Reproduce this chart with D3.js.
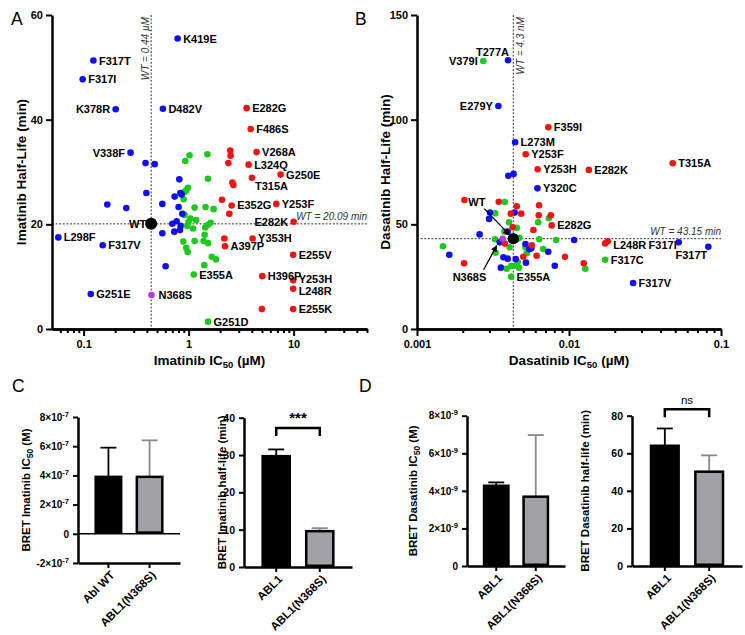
<!DOCTYPE html>
<html><head><meta charset="utf-8">
<script src="https://cdn.jsdelivr.net/npm/d3@7"></script>
<style>body{margin:0;background:#fff}svg text{font-family:Arial,"Liberation Sans",sans-serif}</style>
</head><body><svg id="c" width="745" height="635"></svg>
<script>
// ---------------- DATA ----------------
// Panel A: Imatinib IC50 (µM) vs half-life (min)
const imaBlue=[
 {m:"K419E",x:0.786,y:55.5},{m:"F317T",x:0.124,y:51.3},{m:"F317I",x:0.098,y:47.7},
 {m:"K378R",x:0.202,y:42.0},{m:"D482V",x:0.569,y:42.1},{m:"V338F",x:0.28,y:33.7},
 {m:"",x:0.389,y:31.7},{m:"",x:0.475,y:31.5},{m:"",x:0.815,y:28.6},{m:"",x:0.396,y:26.0},
 {m:"",x:0.834,y:26.0},{m:"",x:0.858,y:25.7},{m:"",x:0.736,y:25.3},{m:"",x:0.168,y:23.8},
 {m:"",x:0.255,y:23.1},{m:"",x:0.562,y:23.9},{m:"",x:0.803,y:23.3},{m:"",x:0.871,y:22.0},
 {m:"",x:0.769,y:20.6},{m:"",x:0.70,y:20.1},{m:"",x:0.839,y:19.7},{m:"",x:0.827,y:18.9},
 {m:"",x:0.562,y:18.3},{m:"",x:0.73,y:18.6},{m:"F317V",x:0.152,y:16.0},{m:"L298F",x:0.0574,y:17.5},
 {m:"",x:0.604,y:12.0},{m:"G251E",x:0.117,y:6.7}];
const imaGreen=[
 {m:"",x:1.02,y:33.2},{m:"",x:1.51,y:33.4},{m:"",x:0.93,y:32.1},{m:"",x:1.53,y:28.7},
 {m:"",x:0.985,y:27.0},{m:"",x:0.95,y:26.5},{m:"",x:0.916,y:26.2},{m:"",x:0.896,y:24.8},
 {m:"",x:1.14,y:23.2},{m:"",x:1.45,y:23.3},{m:"",x:1.73,y:22.9},{m:"",x:0.916,y:21.8},
 {m:"",x:1.04,y:21.1},{m:"",x:1.18,y:20.8},{m:"",x:1.0,y:20.5},{m:"",x:1.62,y:20.3},
 {m:"",x:1.53,y:19.9},{m:"",x:0.97,y:19.7},{m:"",x:1.10,y:19.2},{m:"",x:1.44,y:19.4},
 {m:"",x:1.42,y:18.0},{m:"",x:0.89,y:16.7},{m:"",x:1.14,y:16.8},{m:"",x:1.39,y:16.8},
 {m:"",x:1.53,y:16.4},{m:"",x:0.95,y:15.5},{m:"",x:0.98,y:14.7},{m:"",x:1.66,y:13.8},
 {m:"",x:1.82,y:13.3},{m:"",x:1.41,y:12.2},{m:"E355A",x:1.12,y:10.4},{m:"G251D",x:1.53,y:1.4}];
const imaRed=[
 {m:"E282G",x:3.57,y:42.2},{m:"F486S",x:3.9,y:38.2},{m:"V268A",x:4.44,y:33.8},
 {m:"L324Q",x:3.73,y:31.4},{m:"G250E",x:7.52,y:29.5},{m:"",x:2.49,y:34.1},{m:"",x:2.51,y:33.1},
 {m:"",x:2.39,y:31.7},{m:"T315A",x:4.01,y:28.9},{m:"",x:2.61,y:28.0},{m:"",x:2.67,y:27.5},
 {m:"",x:2.08,y:24.7},{m:"E352G",x:2.57,y:23.6},{m:"Y253F",x:6.84,y:23.9},{m:"",x:2.44,y:22.0},
 {m:"E282K",x:10.0,y:20.5},{m:"",x:2.19,y:17.3},{m:"Y353H",x:4.07,y:17.3},{m:"A397P",x:2.22,y:15.8},
 {m:"E255V",x:9.9,y:14.2},{m:"H396P",x:5.03,y:10.1},{m:"Y253H",x:9.9,y:9.3},{m:"L248R",x:9.9,y:7.7},
 {m:"",x:4.99,y:3.8},{m:"E255K",x:9.9,y:3.8}];
const imaPurple=[{m:"N368S",x:0.443,y:6.5}];
const imaWT={m:"WT",x:0.44,y:20.09};
const imaXTicks=[0.1,1,10], imaXLabels=["0.1","1","10"], imaYTicks=[0,20,40,60];

// Panel B: Dasatinib IC50 (µM) vs half-life (min)
const dasBlue=[
 {m:"T277A",x:0.00397,y:128.4},{m:"E279Y",x:0.00343,y:106.5},{m:"L273M",x:0.00442,y:89.2},
 {m:"",x:0.00399,y:73.2},{m:"",x:0.00432,y:74.1},{m:"Y320C",x:0.0062,y:67.2},
 {m:"",x:0.00302,y:55.6},{m:"",x:0.00439,y:55.6},{m:"",x:0.00298,y:52.6},{m:"",x:0.00395,y:46.5},
 {m:"",x:0.00258,y:45.2},{m:"",x:0.00163,y:35.5},{m:"",x:0.0035,y:41.4},{m:"",x:0.00517,y:40.6},
 {m:"",x:0.00548,y:38.1},{m:"",x:0.00565,y:38.6},{m:"",x:0.0073,y:36.9},{m:"",x:0.00806,y:30.2},
 {m:"",x:0.0037,y:34.3},{m:"",x:0.00395,y:33.6},{m:"",x:0.00446,y:33.4},{m:"",x:0.00521,y:31.7},
 {m:"",x:0.00356,y:29.3},{m:"",x:0.0108,y:42.5},{m:"F317I",x:0.0527,y:41.4},
 {m:"F317T",x:0.0825,y:39.3},{m:"F317V",x:0.0264,y:22.0}];
const dasGreen=[
 {m:"V379I",x:0.00273,y:128.0},{m:"",x:0.00378,y:60.7},{m:"",x:0.00327,y:55.3},
 {m:"",x:0.00737,y:52.9},{m:"",x:0.00627,y:51.0},{m:"",x:0.00403,y:51.0},{m:"",x:0.00453,y:48.3},
 {m:"",x:0.00376,y:46.5},{m:"",x:0.00148,y:39.5},{m:"",x:0.00326,y:42.9},{m:"",x:0.00457,y:43.0},
 {m:"",x:0.00471,y:43.6},{m:"",x:0.00637,y:42.9},{m:"",x:0.00823,y:42.5},{m:"",x:0.00407,y:39.0},
 {m:"",x:0.00517,y:39.0},{m:"",x:0.00527,y:36.2},{m:"",x:0.00676,y:38.2},{m:"",x:0.0128,y:28.8},
 {m:"",x:0.00329,y:36.4},{m:"",x:0.0046,y:32.0},{m:"",x:0.00389,y:28.8},{m:"",x:0.00416,y:30.1},
 {m:"",x:0.00448,y:30.2},{m:"",x:0.00469,y:29.3},{m:"E355A",x:0.00416,y:25.0},{m:"F317C",x:0.0173,y:33.1}];
const dasRed=[
 {m:"F359I",x:0.00731,y:96.4},{m:"Y253F",x:0.00519,y:83.5},{m:"Y253H",x:0.00622,y:76.3},
 {m:"E282K",x:0.0135,y:76.0},{m:"T315A",x:0.0481,y:79.2},{m:"",x:0.00205,y:61.6},
 {m:"",x:0.00345,y:60.8},{m:"",x:0.00453,y:58.6},{m:"",x:0.00635,y:59.1},{m:"",x:0.00414,y:55.1},
 {m:"",x:0.00485,y:55.1},{m:"",x:0.00632,y:54.3},{m:"",x:0.00759,y:54.3},{m:"E282G",x:0.00769,y:49.5},
 {m:"",x:0.00426,y:48.6},{m:"",x:0.00583,y:47.3},{m:"",x:0.00204,y:31.4},{m:"",x:0.00378,y:40.8},
 {m:"",x:0.00569,y:40.0},{m:"",x:0.005,y:34.5},{m:"",x:0.00612,y:35.0},{m:"",x:0.0094,y:34.5},
 {m:"",x:0.0125,y:31.4},{m:"L248R",x:0.0173,y:40.9},{m:"",x:0.018,y:41.9}];
const dasPurple=[{m:"N368S",x:0.00366,y:43.1}];
const dasWT={m:"WT",x:0.0043,y:43.15};
const dasXTicks=[0.001,0.01,0.1], dasXLabels=["0.001","0.01","0.1"], dasYTicks=[0,50,100,150];

// Panels C & D: BRET bar charts
const barCats1=["Abl WT","ABL1(N368S)"], barCats=["ABL1","ABL1(N368S)"];
const imaIC50Mean=[3.9e-7,3.9e-7], imaIC50Err=[2.0e-7,2.5e-7];
const imaHLMean=[29.7,9.6], imaHLErr=[1.8,0.8];
const dasIC50Mean=[4.27e-9,3.69e-9], dasIC50Err=[0.18e-9,3.28e-9];
const dasHLMean=[64.0,50.2], dasHLErr=[9.2,8.7];
const imaIC50Ticks=[-2e-7,0,2e-7,4e-7,6e-7,8e-7], imaHLTicks=[0,10,20,30,40];
const dasIC50Ticks=[0,2e-9,4e-9,6e-9,8e-9], dasHLTicks=[0,20,40,60,80];

// ---------------- DRAW ----------------
const svg=d3.select("#c");
const COL={blue:"#0f0ff2",green:"#1fc81f",red:"#f01515",purple:"#b43cdc",black:"#000"};
const AX=2.5, LBL=11;

function styleAxis(g,fs){
  g.select(".domain").attr("stroke","#000").attr("stroke-width",AX);
  g.selectAll(".tick line").attr("stroke","#000").attr("stroke-width",2);
  g.selectAll(".tick text").attr("font-size",fs).attr("font-weight","bold").attr("fill","#000")
   .attr("font-family",'Arial,"Liberation Sans",sans-serif');
}

function scatter(c){
  const x=d3.scaleLog().domain(c.xDom).range(c.xR);
  const y=d3.scaleLinear().domain(c.yDom).range(c.yR);
  const g=svg.append("g");
  const wx=x(c.wt.x), wy=y(c.wt.y);
  g.append("line").attr("x1",wx).attr("x2",wx).attr("y1",c.yR[1]).attr("y2",c.yR[0])
   .attr("stroke","#333").attr("stroke-width",1).attr("stroke-dasharray","2,1.6");
  g.append("line").attr("x1",c.xR[0]).attr("x2",c.xR[1]).attr("y1",wy).attr("y2",wy)
   .attr("stroke","#333").attr("stroke-width",1).attr("stroke-dasharray","2,1.6");
  g.append("text").attr("transform",`translate(${wx+c.vNoteDx},${c.yR[1]+2}) rotate(-90)`)
   .attr("text-anchor","end").attr("font-size",10).attr("font-style","italic").attr("fill","#333").text(c.vNote);
  g.append("text").attr("x",c.xR[1]).attr("y",wy-4).attr("text-anchor","end")
   .attr("font-size",10).attr("font-style","italic").attr("fill","#333").text(c.hNote);
  const minor=x.ticks().filter(v=>!c.xTicks.some(t=>Math.abs(t-v)/t<1e-6) && v>c.xDom[0]);
  const gxm=g.append("g").attr("transform",`translate(0,${c.yR[0]})`)
    .call(d3.axisBottom(x).tickValues(minor).tickFormat("").tickSize(4).tickSizeOuter(0));
  styleAxis(gxm,11);
  const gx=g.append("g").attr("transform",`translate(0,${c.yR[0]})`)
    .call(d3.axisBottom(x).tickValues(c.xTicks).tickFormat((d,i)=>c.xLabels[i]).tickSize(7).tickSizeOuter(0).tickPadding(4));
  styleAxis(gx,11);
  const gy=g.append("g").attr("transform",`translate(${c.xR[0]},0)`)
    .call(d3.axisLeft(y).tickValues(c.yTicks).tickSize(6).tickSizeOuter(0).tickPadding(3));
  styleAxis(gy,11);
  const xt=g.append("text").attr("x",(c.xR[0]+c.xR[1])/2).attr("y",c.yR[0]+36).attr("text-anchor","middle")
   .attr("font-size",13.5).attr("font-weight","bold");
  xt.append("tspan").text(c.xTitle[0]+" IC");
  xt.append("tspan").attr("font-size",9.5).attr("dy",3).text("50");
  xt.append("tspan").attr("dy",-3).text(" (\u00b5M)");
  g.append("text").attr("transform",`translate(${c.yTitleX},${(c.yR[0]+c.yR[1])/2}) rotate(-90)`)
   .attr("dy","0.35em").attr("text-anchor","middle").attr("font-size",13.5).attr("font-weight","bold").text(c.yTitle);
  const groups=[[c.green,COL.green],[c.blue,COL.blue],[c.red,COL.red],[c.purple,COL.purple]];
  groups.forEach(([arr,col])=>{
    g.append("g").selectAll("circle").data(arr).join("circle")
      .attr("cx",d=>x(d.x)).attr("cy",d=>y(d.y)).attr("r",3.3).attr("fill",col);
  });
  g.append("circle").attr("cx",wx).attr("cy",wy).attr("r",c.wtR).attr("fill","#000");
  const all=[...c.green,...c.blue,...c.red,...c.purple,c.wt].filter(d=>d.m);
  all.forEach(d=>{
    const p=c.place[d.m]||{};
    const side=p.side||"right";
    const dx=p.dx!==undefined?p.dx:(side==="right"?5.5:-5.5);
    const dy=p.dy!==undefined?p.dy:4;
    g.append("text").attr("x",x(d.x)+dx).attr("y",y(d.y)+dy)
      .attr("text-anchor",side==="right"?"start":"end")
      .attr("font-size",LBL).attr("font-weight","bold").text(d.m);
  });
  if(c.arrows){
    const defs=svg.append("defs");
    defs.append("marker").attr("id","ah").attr("viewBox","0 0 10 10").attr("refX",9).attr("refY",5)
      .attr("markerWidth",5).attr("markerHeight",5).attr("orient","auto")
      .append("path").attr("d","M0,0L10,5L0,10z").attr("fill","#000");
    c.arrows.forEach(a=>{
      g.append("line").attr("x1",a.x1).attr("y1",a.y1).attr("x2",a.x2).attr("y2",a.y2)
       .attr("stroke","#000").attr("stroke-width",1.3).attr("marker-end","url(#ah)");
    });
  }
  return {x,y};
}

// Panel A
scatter({xDom:[0.05,50],xR:[52,367],yDom:[0,60],yR:[329,15],
  blue:imaBlue,green:imaGreen,red:imaRed,purple:imaPurple,wt:imaWT,wtR:6,
  xTicks:imaXTicks,xLabels:imaXLabels,yTicks:imaYTicks,
  xTitle:["Imatinib"],yTitle:"Imatinib Half-Life (min)",yTitleX:21,
  vNote:"WT = 0.44 \u00b5M",vNoteDx:-2.5,hNote:"WT = 20.09 min",
  place:{K378R:{side:"left"},V338F:{side:"left"},E282K:{side:"left"},WT:{side:"left",dx:-5},
    T315A:{dx:3,dy:12},N368S:{dx:7},Y253H:{dy:3},L248R:{dy:6}}});

// Panel B
const xB=d3.scaleLog().domain([0.001,0.1]).range([417,721]);
const yB=d3.scaleLinear().domain([0,150]).range([329,15]);
scatter({xDom:[0.001,0.1],xR:[417,721],yDom:[0,150],yR:[329,15],
  blue:dasBlue,green:dasGreen,red:dasRed,purple:[],wt:{m:"",x:dasWT.x,y:dasWT.y},wtR:5.5,
  xTicks:dasXTicks,xLabels:dasXLabels,yTicks:dasYTicks,
  xTitle:["Dasatinib"],yTitle:"Dasatinib Half-Life (min)",yTitleX:385,
  vNote:"WT = 4.3 nM",vNoteDx:11,hNote:"WT = 43.15 min",
  place:{V379I:{side:"left"},E279Y:{side:"left"},T277A:{side:"left",dx:1,dy:-4.5},
    F317I:{side:"left",dx:-2,dy:7},F317T:{side:"left",dx:-1,dy:12},L248R:{dx:8,dy:5.5}},
  arrows:[{x1:xB(dasWT.x)-29,y1:yB(dasWT.y)-30,x2:xB(dasWT.x)-4,y2:yB(dasWT.y)-4},
          {x1:xB(dasPurple[0].x)-19,y1:yB(dasPurple[0].y)+31,x2:xB(dasPurple[0].x)-6,y2:yB(dasPurple[0].y)+7}]});
svg.append("circle").attr("cx",xB(dasPurple[0].x)).attr("cy",yB(dasPurple[0].y)).attr("r",3.3).attr("fill",COL.purple);
svg.append("circle").attr("cx",xB(dasWT.x)).attr("cy",yB(dasWT.y)).attr("r",5.5).attr("fill","#000");
svg.append("text").attr("x",xB(dasWT.x)-45).attr("y",yB(dasWT.y)-33).attr("font-size",LBL).attr("font-weight","bold").text(dasWT.m);
svg.append("text").attr("x",xB(dasPurple[0].x)-50).attr("y",yB(dasPurple[0].y)+42).attr("font-size",LBL).attr("font-weight","bold").text(dasPurple[0].m);

// panel letters
[["A",11,25],["B",355,25],["C",12,392],["D",359,392]].forEach(([t,x,y])=>
  svg.append("text").attr("x",x).attr("y",y).attr("font-size",17.5).text(t));

function sciLabel(sel,v){
  if(v===0){sel.text("0");return;}
  const e=Math.floor(Math.log10(Math.abs(v))+1e-9);
  const m=Math.round(v/Math.pow(10,e));
  sel.text("");
  sel.append("tspan").text(m+"\u00d710");
  sel.append("tspan").attr("dy",-4).attr("font-size",7.5).text("-"+Math.abs(e));
}

function bars(c){
  const x=d3.scaleBand().domain(c.cats).range(c.xR).paddingInner(0.32).paddingOuter(0.4);
  const y=d3.scaleLinear().domain(c.yDom).range(c.yR);
  const g=svg.append("g");
  const ya=d3.axisLeft(y).tickValues(c.yTicks).tickSize(5).tickSizeOuter(0).tickPadding(4);
  if(c.sci) ya.tickFormat("");
  const gy=g.append("g").attr("transform",`translate(${c.xR[0]},0)`).call(ya);
  styleAxis(gy,10.5);
  if(c.sci){
    gy.selectAll(".tick").each(function(d){
      const t=d3.select(this).append("text").attr("x",-9).attr("dy","0.32em").attr("text-anchor","end")
        .attr("font-size",10).attr("font-weight","bold").attr("fill","#000");
      sciLabel(t,d);
    });
  }
  const gx=g.append("g").attr("transform",`translate(0,${c.yR[0]})`)
    .call(d3.axisBottom(x).tickSize(5).tickSizeOuter(0).tickFormat(""));
  styleAxis(gx,10.5);
  c.cats.forEach(k=>{
    g.append("text").attr("transform",`translate(${x(k)+x.bandwidth()/2+4},${c.yR[0]+10}) rotate(-45)`)
     .attr("text-anchor","end").attr("dy","0.35em").attr("font-size",11.5).attr("font-weight","bold").text(k);
  });
  if(c.yDom[0]<0){
    g.append("line").attr("x1",c.xR[0]).attr("x2",c.xR[1]).attr("y1",y(0)).attr("y2",y(0))
     .attr("stroke","#000").attr("stroke-width",1.5);
  }
  const fills=["#000","#a2a2a6"], ecol=["#000","#8a8a8a"];
  c.cats.forEach((k,i)=>{
    const cx=x(k)+x.bandwidth()/2, top=y(c.mean[i]+c.err[i]);
    g.append("line").attr("x1",cx).attr("x2",cx).attr("y1",y(c.mean[i])).attr("y2",top)
     .attr("stroke",ecol[i]).attr("stroke-width",1.8);
    g.append("line").attr("x1",cx-8).attr("x2",cx+8).attr("y1",top).attr("y2",top)
     .attr("stroke",ecol[i]).attr("stroke-width",1.8);
  });
  g.selectAll("rect.bar").data(c.cats).join("rect").attr("class","bar")
   .attr("x",k=>x(k)+1.25).attr("width",x.bandwidth()-2.5)
   .attr("y",(k,i)=>y(c.mean[i])).attr("height",(k,i)=>y(0)-y(c.mean[i])-1.25)
   .attr("fill",(k,i)=>fills[i]).attr("stroke","#000").attr("stroke-width",2.5);
  const tt=g.append("text").attr("transform",`translate(${c.yTitleX},${(c.yR[0]+c.yR[1])/2}) rotate(-90)`)
   .attr("dy","0.35em").attr("text-anchor","middle").attr("font-size",11.5).attr("font-weight","bold");
  c.yTitle.forEach((s,i)=>{ if(i===1) tt.append("tspan").attr("font-size",8.5).attr("dy",2.5).text(s);
    else if(i===2) tt.append("tspan").attr("dy",-2.5).text(s); else tt.append("tspan").text(s); });
  if(c.sig){
    const x1=x(c.cats[0])+x.bandwidth()/2, x2=x(c.cats[1])+x.bandwidth()/2, by=c.sig.y;
    g.append("path").attr("d",`M${x1},${by+8}V${by}H${x2}V${by+8}`).attr("fill","none")
     .attr("stroke","#000").attr("stroke-width",2.5);
    g.append("text").attr("x",(x1+x2)/2).attr("y",by-5).attr("text-anchor","middle")
     .attr("font-size",c.sig.fs).attr("font-weight",c.sig.bold?"bold":"normal").text(c.sig.t);
  }
}

bars({cats:barCats1,xR:[78,180],yDom:[-2e-7,8e-7],yR:[563,417],mean:imaIC50Mean,err:imaIC50Err,
  yTicks:imaIC50Ticks,sci:true,yTitle:["BRET Imatinib IC","50"," (M)"],yTitleX:26});
bars({cats:barCats,xR:[244,352],yDom:[0,40],yR:[567,417.7],mean:imaHLMean,err:imaHLErr,
  yTicks:imaHLTicks,yTitle:["BRET Imatinib half-life (min)"],yTitleX:222,sig:{y:428,t:"***",fs:15,bold:true}});
bars({cats:barCats,xR:[467,565],yDom:[0,8e-9],yR:[566,415.7],mean:dasIC50Mean,err:dasIC50Err,
  yTicks:dasIC50Ticks,sci:true,yTitle:["BRET Dasatinib IC","50"," (M)"],yTitleX:413});
bars({cats:barCats,xR:[632,742],yDom:[0,80],yR:[566,415.7],mean:dasHLMean,err:dasHLErr,
  yTicks:dasHLTicks,yTitle:["BRET Dasatinib half-life (min)"],yTitleX:585,sig:{y:409.3,t:"ns",fs:11.5,bold:false}});
</script></body></html>
